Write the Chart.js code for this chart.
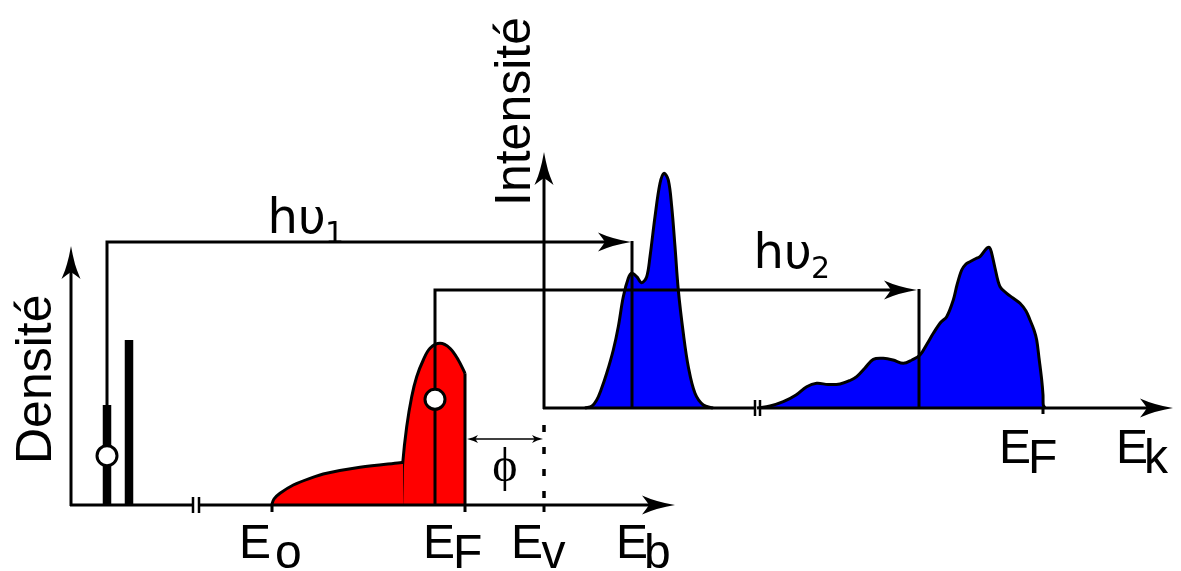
<!DOCTYPE html>
<html>
<head>
<meta charset="utf-8">
<script src="https://cdn.jsdelivr.net/npm/chart.js@4"></script>
<style>
html,body{margin:0;padding:0;background:#fff;}
#wrap{width:1181px;height:571px;position:relative;}
</style>
</head>
<body>
<div id="wrap"><canvas id="c"></canvas></div>
<script>
// ---- Diagram coordinate data (x to the right, y downward, diagram units) ----
// Axes
const densiteAxisY = [[71,506],[71,262]];
const densiteAxisXa = [[70,505],[193,505]];
const densiteAxisXb = [[199,505],[652,505]];
const densiteBreak1 = [[193,497],[193,513]];
const densiteBreak2 = [[199,497],[199,513]];
const intensAxisY = [[544,409],[544,170]];
const intensAxisXa = [[543,408],[755,408]];
const intensAxisXb = [[760,408],[1150,408]];
const intensBreak1 = [[755,400],[755,416]];
const intensBreak2 = [[760,400],[760,416]];
// Ticks
const tickE0 = [[272,505],[272,512]];
const tickEF = [[465,505],[465,512]];
const tickEv = [[544,505],[544,512]];
const tickEFk = [[1043,408],[1043,414]];
// Core levels (bars)
const coreLevel1 = [[107,506],[107,405]];
const coreLevel2 = [[129,506],[129,340]];
// Photon paths
const hv1Path = [[107,405],[107,242],[620,242]];
const hv1Drop = [[632,241],[632,408]];
const hv2Path = [[435,505],[435,290],[905,290]];
const hv2Drop = [[919,289],[919,408]];
// Work function
const vacuumLevel = [[544,425],[544,505]];
const phiSpan = [[472,439],[538,439]];
// Density of states (red)
const dosTail = [[271.7,505],[274,499],[280,493.3],[293.3,485],[310,478.3],[326.7,473.3],[360,467.3],[400,462.7],[403,462.5]];
const dosValence = [[401.7,505],[402.2,482],[402.7,463.3],[406.7,426.7],[411.7,396.7],[416.7,376.7],[423.3,360],[430,348.3],[440,343.3],[450,348.3],[458.3,360],[465,373.3]];
const dosEdge = [[465,373.3],[465,506]];
// Spectra (blue)
const spectrum1 = [[585,408],[592,406],[596.7,400],[601,390],[606.7,373.3],[613.3,350],[618.3,326.7],[623.3,296.7],[628.3,278.3],[631.7,273.3],[636.7,276.7],[641.7,282.7],[646.7,276.7],[650,256.7],[655,216.7],[660,183.3],[664,173.3],[668.3,180],[671.7,206.7],[675,246.7],[678.3,290],[683.3,333.3],[688.3,366.7],[695,393.3],[703.3,405],[713,408]];
const spectrum2 = [[757,408],[770,406],[783.3,401.7],[796,395],[806.7,386.7],[816.7,383.3],[828,384.5],[840,384],[850,380.5],[856.7,376.7],[865,368],[873.3,359.3],[883.3,358.3],[893,360],[903.3,363.3],[912,360],[920,355],[927,344],[933.3,333.3],[941,322],[946.7,316.7],[953.3,300],[957,285],[961.7,270],[966,264],[970,261.7],[976,258.5],[980,256.7],[986.7,248.3],[989.5,247.5],[991.7,253.3],[995,268],[1000,286.7],[1006.7,293.3],[1013,298],[1020,303.3],[1026,311],[1030,320],[1034,330],[1036.7,340],[1039,358],[1041.7,380],[1043,395],[1043.3,405],[1045,408]];
// Photoelectrons (holes)
const holes = [[107,455.7],[435,399.3]];
// Arrow tips: [x, y, rotation]
const bigArrowTips = [[71,246,-90],[675,505,0],[544,152,-90],[1173,408,0],[631,242,0],[917,290,0]];
const smallArrowTips = [[467,439,180],[543,439,0]];
// Text labels
const labelText = ['Densité','Intensité','E','o','E','F','E','v','E','b','E','F','E','k','hυ','1','hυ','2','ϕ'];
const labelX    = [51,530,239,275,423,453,511,541.5,616,644,999,1028,1116,1144,267.5,325,753.5,811,505];
const labelY    = [464,206,558,568,558,568,558,568,558,568,463,473,463,473,233,243,268,278,481];
const labelFont = ['50px "Liberation Sans"','50px "Liberation Sans"',
  '48px "Liberation Sans"','48px "Liberation Sans"','48px "Liberation Sans"','48px "Liberation Sans"',
  '48px "Liberation Sans"','48px "Liberation Sans"','48px "Liberation Sans"','48px "Liberation Sans"',
  '48px "Liberation Sans"','48px "Liberation Sans"','48px "Liberation Sans"','48px "Liberation Sans"',
  '48px "DejaVu Sans"','30px "DejaVu Sans"','48px "DejaVu Sans"','30px "DejaVu Sans"','48px "Liberation Serif"'];
const labelRot  = [-90,-90,0,0,0,0,0,0,0,0,0,0,0,0,0,0,0,0,0];
const labelAlign= ['left','left','left','left','left','left','left','left','left','left','left','left','left','left','left','left','left','left','center'];

// ---- helpers ----
const pts = a => a.map(p => ({x:p[0], y:p[1]}));
function makeArrowHead(L, hw, notch){
  const c = document.createElement('canvas');
  c.width = 2*L + 4; c.height = 2*Math.ceil(hw) + 4;
  const g = c.getContext('2d');
  const cx = c.width/2, cy = c.height/2;
  g.fillStyle = '#000';
  g.beginPath();
  g.moveTo(cx, cy);
  g.quadraticCurveTo(cx - L*0.55, cy - hw*0.3, cx - L, cy - hw);
  g.quadraticCurveTo(cx - L + notch*0.7, cy - hw*0.35, cx - L + notch, cy);
  g.quadraticCurveTo(cx - L + notch*0.7, cy + hw*0.35, cx - L, cy + hw);
  g.quadraticCurveTo(cx - L*0.55, cy + hw*0.3, cx, cy);
  g.closePath();
  g.fill();
  return c;
}
const bigHead = makeArrowHead(33, 9.5, 7);
const smallHead = makeArrowHead(11, 4, 2.5);

function line(data, w, extra){
  return Object.assign({data: pts(data), borderColor:'#000', borderWidth: w, fill:false, tension:0, pointRadius:0, order:2, clip:false, borderJoinStyle:'miter'}, extra||{});
}
function area(data, color, base){
  return {data: pts(data), borderColor:'#000', borderWidth:3, backgroundColor: color, fill:{value: base}, tension:0.35, pointRadius:0, order:6, clip:false, borderJoinStyle:'round'};
}
function arrows(tips, img){
  return {data: tips.map(t => ({x:t[0], y:t[1]})), showLine:false, pointRadius:1, pointStyle: img,
          rotation: tips.map(t => t[2]), order:0, clip:false};
}

const datasets = [
  area(dosTail, '#ff0000', 505),
  area(dosValence, '#ff0000', 505),
  area(spectrum1, '#0000ff', 408),
  area(spectrum2, '#0000ff', 408),
  line(densiteAxisY, 3), line(densiteAxisXa, 3), line(densiteAxisXb, 3),
  line(densiteBreak1, 2.5), line(densiteBreak2, 2.5),
  line(intensAxisY, 3), line(intensAxisXa, 3), line(intensAxisXb, 3),
  line(intensBreak1, 2.5), line(intensBreak2, 2.5),
  line(tickE0, 3), line(tickEF, 3), line(tickEv, 3), line(tickEFk, 3),
  line(coreLevel1, 8.5, {borderJoinStyle:'bevel'}), line(coreLevel2, 8.5),
  line(hv1Path, 3), line(hv1Drop, 3), line(hv2Path, 3), line(hv2Drop, 3),
  line(dosEdge, 3, {order:3}),
  line(vacuumLevel, 3.5, {borderDash:[7,15]}),
  line(phiSpan, 1.6),
  {data: pts(holes), showLine:false, pointRadius:10, pointBorderWidth:3, pointBackgroundColor:'#fff', pointBorderColor:'#000', order:0, clip:false},
  arrows(bigArrowTips, bigHead),
  arrows(smallArrowTips, smallHead)
];

const textPlugin = {
  id:'diagramText',
  afterDatasetsDraw(chart){
    const ctx = chart.ctx, xs = chart.scales.x, ys = chart.scales.y;
    ctx.save();
    ctx.fillStyle = '#000';
    ctx.textBaseline = 'alphabetic';
    for (let i = 0; i < labelText.length; i++){
      ctx.save();
      ctx.translate(xs.getPixelForValue(labelX[i]), ys.getPixelForValue(labelY[i]));
      ctx.rotate(labelRot[i]*Math.PI/180);
      ctx.font = labelFont[i];
      ctx.textAlign = labelAlign[i];
      ctx.fillText(labelText[i], 0, 0);
      ctx.restore();
    }
    ctx.restore();
  }
};

new Chart(document.getElementById('c'), {
  type:'line',
  data:{datasets},
  options:{
    responsive:true, maintainAspectRatio:false, animation:false,
    layout:{padding:0, autoPadding:false},
    events:[],
    elements:{point:{radius:0, hitRadius:0}},
    plugins:{legend:{display:false}, tooltip:{enabled:false}},
    scales:{
      x:{type:'linear', min:0, max:1181, display:false},
      y:{type:'linear', min:0, max:571, reverse:true, display:false}
    }
  },
  plugins:[textPlugin]
});
</script>
</body>
</html>
